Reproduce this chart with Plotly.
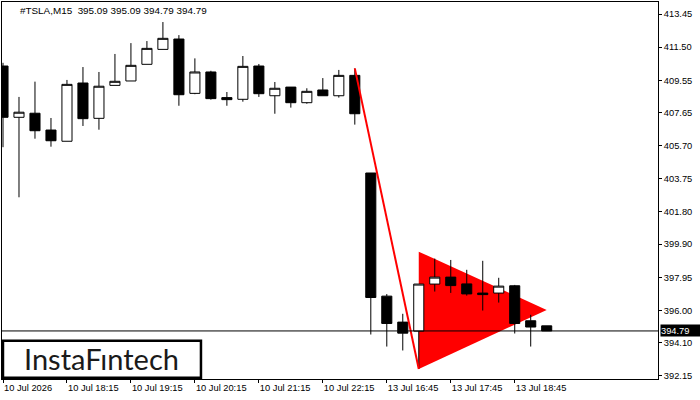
import plotly.graph_objects as go

# ---- data ----
idx = list(range(35))
opens = [410.39, 407.37, 407.61, 406.62, 405.96, 409.39, 407.31, 409.25, 409.51, 410.49,
         411.37, 411.98, 408.78, 410.04, 408.53, 408.43, 410.39, 408.64, 409.15, 408.23,
         408.98, 408.64, 409.84, 404.09, 396.84, 395.31, 394.78, 397.55, 397.96, 397.56,
         397.02, 397.02, 397.45, 395.39, 395.09]
highs = [410.58, 408.57, 409.47, 407.33, 409.57, 410.33, 410.04, 411.10, 411.74, 411.86,
         412.98, 412.21, 410.84, 410.11, 408.86, 410.98, 410.51, 409.45, 409.15, 409.08,
         409.68, 410.16, 410.25, 404.09, 396.96, 395.80, 397.55, 399.05, 398.97, 398.39,
         398.92, 397.92, 397.50, 395.74, 395.09]
lows = [405.61, 402.66, 406.11, 405.64, 405.96, 406.86, 406.64, 409.25, 409.51, 410.49,
        411.37, 408.05, 408.73, 408.41, 408.05, 408.29, 408.57, 407.58, 407.94, 408.17,
        408.64, 408.53, 406.94, 394.58, 393.87, 393.64, 392.55, 397.11, 397.03, 396.87,
        395.99, 396.46, 394.64, 393.87, 394.79]
closes = [407.37, 407.67, 406.58, 405.99, 409.31, 407.29, 409.20, 409.49, 410.43, 411.43,
          412.02, 408.70, 410.04, 408.47, 408.41, 410.37, 408.76, 409.08, 408.23, 408.90,
          408.64, 409.84, 407.58, 396.76, 395.23, 394.66, 397.55, 397.96, 397.46, 396.97,
          396.93, 397.43, 395.23, 395.02, 394.79]

tick_idx = [0, 4, 8, 12, 16, 20, 24, 28, 32]
tick_labels = ["10 Jul 2026", "10 Jul 18:15", "10 Jul 19:15", "10 Jul 20:15", "10 Jul 21:15",
               "10 Jul 22:15", "13 Jul 16:45", "13 Jul 17:45", "13 Jul 18:45"]
price_ticks = [413.45, 411.50, 409.55, 407.65, 405.70, 403.75, 401.80, 399.90, 397.95,
               396.00, 394.10, 392.15]

pole_x = [22, 26]
pole_y = [410.25, 392.55]
pennant_x = [26, 34, 26]
pennant_y = [399.46, 396.03, 392.55]
last_price = 394.79
title_text = "#TSLA,M15  395.09 395.09 394.79 394.79"

FONT = "Liberation Sans"

fig = go.Figure()
fig.add_trace(go.Candlestick(
    x=idx, open=opens, high=highs, low=lows, close=closes,
    increasing=dict(line=dict(color="black", width=1), fillcolor="white"),
    decreasing=dict(line=dict(color="black", width=1), fillcolor="black"),
    whiskerwidth=0, hoverinfo="skip", showlegend=False,
))
fig.add_trace(go.Scatter(x=pole_x, y=pole_y, mode="lines",
                         line=dict(color="#ff0000", width=2), hoverinfo="skip",
                         showlegend=False))

path = "M {},{} L {},{} L {},{} Z".format(pennant_x[0], pennant_y[0], pennant_x[1],
                                          pennant_y[1], pennant_x[2], pennant_y[2])
shapes = [
    dict(type="path", path=path, xref="x", yref="y", fillcolor="#ff0000",
         line=dict(width=0), layer="below"),
    dict(type="line", xref="paper", x0=0, x1=1, yref="y", y0=last_price, y1=last_price,
         line=dict(color="black", width=1)),
    dict(type="rect", xref="paper", yref="paper", x0=0.0015, x1=0.3033, y0=0.003, y1=0.1015,
         line=dict(color="black", width=2.5), fillcolor="white"),
]

annotations = [
    dict(text=title_text, xref="paper", yref="paper", x=0.0248, y=0.978,
         xanchor="left", yanchor="middle", showarrow=False,
         font=dict(family=FONT, size=9.9, color="black")),
    dict(text="InstaF\u0131ntech", xref="paper", yref="paper", x=0.1517, y=0.054,
         xanchor="center", yanchor="middle", showarrow=False,
         font=dict(family="Lato", size=29, color="#1a1a1a")),
    dict(text="394.79", xref="paper", yref="y", x=1, y=last_price, xanchor="left",
         yanchor="middle", xshift=2, showarrow=False, bgcolor="black", width=40,
         height=11, align="left", borderpad=0,
         font=dict(family=FONT, size=9.3, color="white")),
]

fig.update_layout(
    width=700, height=400,
    margin=dict(l=2, r=42, t=2, b=21),
    paper_bgcolor="white", plot_bgcolor="white",
    boxgap=0.37, boxgroupgap=0,
    shapes=shapes, annotations=annotations,
    showlegend=False,
    xaxis=dict(range=[-0.0625, 40.96], rangeslider=dict(visible=False),
               tickvals=tick_idx, ticktext=tick_labels, ticks="outside", ticklen=3,
               tickcolor="black", ticklabelposition="outside right",
               showgrid=False, zeroline=False, showline=True, mirror=True,
               linecolor="black", linewidth=1,
               tickfont=dict(family=FONT, size=9.3, color="black")),
    yaxis=dict(range=[391.96, 414.16], side="right", tickvals=price_ticks,
               ticktext=["{:.2f}".format(v) for v in price_ticks], ticks="outside",
               ticklen=3, tickcolor="black", showgrid=False, zeroline=False,
               showline=True, mirror=True, linecolor="black", linewidth=1,
               tickfont=dict(family=FONT, size=9.3, color="black")),
)

fig.write_html("out.html")
